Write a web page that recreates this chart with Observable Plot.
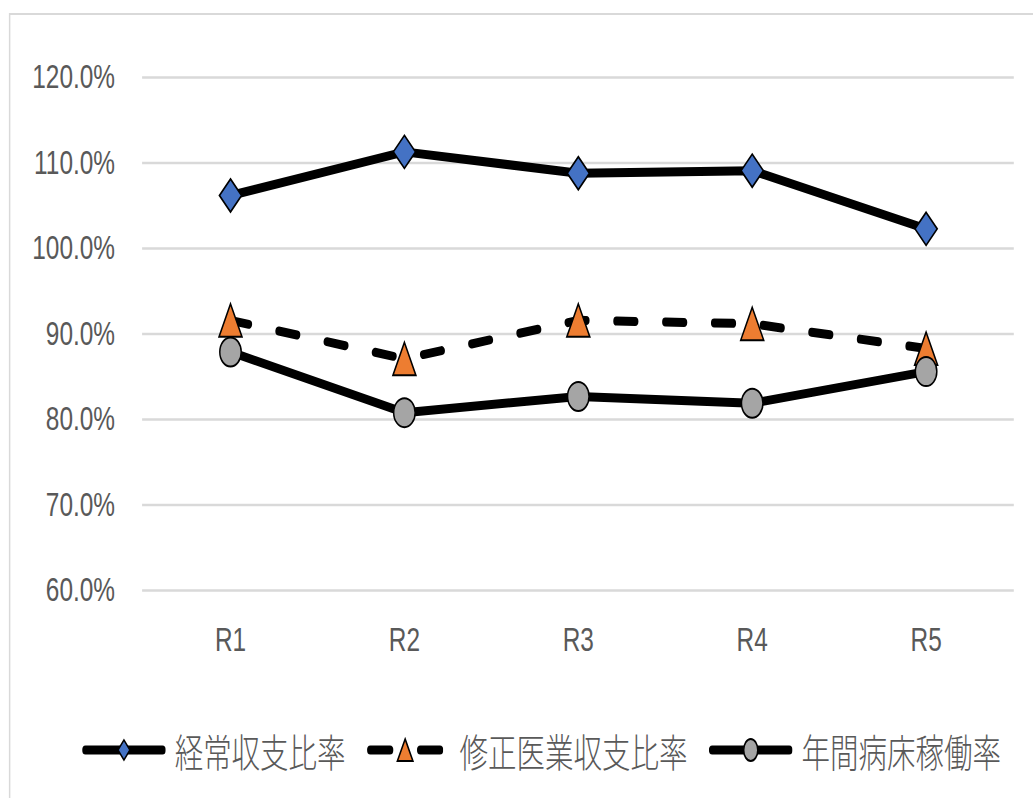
<!DOCTYPE html>
<html>
<head>
<meta charset="utf-8">
<script src="https://cdn.jsdelivr.net/npm/d3@7"></script>
<script src="https://cdn.jsdelivr.net/npm/@observablehq/plot@0.6"></script>
<style>
  html, body { margin: 0; padding: 0; width: 1033px; height: 798px; overflow: hidden; background: #fff; }
  #wrap { position: absolute; left: 0; top: 0; width: 1396px; height: 798px; transform: scaleX(0.74); transform-origin: 0 0; }
  #frame { position: absolute; left: 12px; top: 13px; width: 1500px; height: 900px; border: 2px solid #d9d9d9; box-sizing: border-box; }
  #chart { position: absolute; left: 0; top: 0; }
  #legend { position: absolute; left: 111px; top: 722px; display: flex; align-items: center; gap: 29px;
            font-family: "Noto Sans CJK JP", sans-serif; font-size: 38.5px; font-weight: 300; color: #595959; }
  .item { display: flex; align-items: center; gap: 12px; }
  .item.dash { gap: 22px; }
  .item svg { display: block; }
</style>
</head>
<body>
<div id="wrap">
  <div id="frame"></div>
  <div id="chart"></div>
  <div id="legend"></div>
</div>
<script>
// ---- data ----
const years = ["R1", "R2", "R3", "R4", "R5"];
const keijoShushi = [106.2, 111.3, 108.8, 109.1, 102.3];   // 経常収支比率
const shuseiIgyo = [91.6, 87.1, 91.6, 91.2, 88.3];          // 修正医業収支比率
const byoshoKado = [87.9, 80.8, 82.7, 81.9, 85.6];          // 年間病床稼働率
const seriesNames = ["経常収支比率", "修正医業収支比率", "年間病床稼働率"];
const yTicks = [60, 70, 80, 90, 100, 110, 120];

const rows = (vals) => years.map((y, i) => ({year: y, value: vals[i]}));
const d1 = rows(keijoShushi), d2 = rows(shuseiIgyo), d3r = rows(byoshoKado);

// custom symbols
const triangleBox = {
  draw(ctx, size) {
    const r = Math.sqrt(size / Math.PI);
    const h = r * 1.06;
    ctx.moveTo(0, -h); ctx.lineTo(r, h); ctx.lineTo(-r, h); ctx.closePath();
  }
};
const diamondBox = {
  draw(ctx, size) {
    const r = Math.sqrt(size / Math.PI);
    const h = r * 1.1;
    ctx.moveTo(0, -h); ctx.lineTo(r, 0); ctx.lineTo(0, h); ctx.lineTo(-r, 0); ctx.closePath();
  }
};

const fmt = d => d.toFixed(1) + "%";
const W = 1396;

const chart = Plot.plot({
  width: W,
  height: 680,
  marginLeft: 192,
  marginRight: 26,
  marginTop: 77,
  marginBottom: 90,
  style: { fontFamily: "'Liberation Sans', Arial, sans-serif", fontSize: "33px", color: "#595959", background: "transparent", overflow: "visible" },
  x: { type: "point", domain: years, padding: 0.5, label: null },
  y: { domain: [60, 120], label: null },
  marks: [
    Plot.gridY(yTicks, { stroke: "#d9d9d9", strokeOpacity: 1, strokeWidth: 2.5 }),
    Plot.axisY(yTicks, { tickSize: 0, tickPadding: 37, tickFormat: fmt, fill: "#595959", fontSize: 33, label: null }),
    Plot.axisX({ tickSize: 0, tickPadding: 37, fill: "#595959", fontSize: 33, label: null }),
    Plot.line(d1, { x: "year", y: "value", stroke: "black", strokeWidth: 9, strokeLinejoin: "round" }),
    Plot.line(d2, { x: "year", y: "value", stroke: "black", strokeWidth: 9, strokeLinecap: "round", strokeDasharray: "25,41" }),
    Plot.line(d3r, { x: "year", y: "value", stroke: "black", strokeWidth: 9, strokeLinejoin: "round" }),
    Plot.dot(d1, { x: "year", y: "value", symbol: diamondBox, r: 15, fill: "#4472C4", stroke: "black", strokeWidth: 2 }),
    Plot.dot(d2, { x: "year", y: "value", symbol: triangleBox, r: 15.5, fill: "#ED7D31", stroke: "black", strokeWidth: 2 }),
    Plot.dot(d3r, { x: "year", y: "value", r: 14.5, fill: "#A5A5A5", stroke: "black", strokeWidth: 2 })
  ]
});
document.getElementById("chart").appendChild(chart);

// ---- legend ----
const legend = d3.select("#legend");
const styles = [
  { dashed: false, w: 113, marker: "diamond", color: "#4472C4" },
  { dashed: true, w: 103, marker: "triangle", color: "#ED7D31" },
  { dashed: false, w: 113, marker: "circle", color: "#A5A5A5" }
];
seriesNames.forEach((name, i) => {
  const st = styles[i];
  const item = legend.append("div").attr("class", st.dashed ? "item dash" : "item");
  const svg = item.append("svg").attr("width", st.w).attr("height", 40);
  const cy = 20, cx = st.w / 2;
  if (st.dashed) {
    svg.append("line").attr("x1", 4.5).attr("x2", 31).attr("y1", cy).attr("y2", cy)
      .attr("stroke", "black").attr("stroke-width", 9).attr("stroke-linecap", "round");
    svg.append("line").attr("x1", st.w - 31).attr("x2", st.w - 4.5).attr("y1", cy).attr("y2", cy)
      .attr("stroke", "black").attr("stroke-width", 9).attr("stroke-linecap", "round");
  } else {
    svg.append("line").attr("x1", 4.5).attr("x2", st.w - 4.5).attr("y1", cy).attr("y2", cy)
      .attr("stroke", "black").attr("stroke-width", 9).attr("stroke-linecap", "round");
  }
  if (st.marker === "diamond") {
    svg.append("path").attr("d", `M${cx},${cy - 10}L${cx + 8},${cy}L${cx},${cy + 10}L${cx - 8},${cy}Z`)
      .attr("fill", st.color).attr("stroke", "black").attr("stroke-width", 2);
  } else if (st.marker === "triangle") {
    svg.append("path").attr("d", `M${cx},${cy - 11}L${cx + 10.5},${cy + 11}L${cx - 10.5},${cy + 11}Z`)
      .attr("fill", st.color).attr("stroke", "black").attr("stroke-width", 2);
  } else {
    svg.append("ellipse").attr("cx", cx).attr("cy", cy).attr("rx", 9.5).attr("ry", 11)
      .attr("fill", st.color).attr("stroke", "black").attr("stroke-width", 2);
  }
  item.append("span").text(name);
});
</script>
</body>
</html>
